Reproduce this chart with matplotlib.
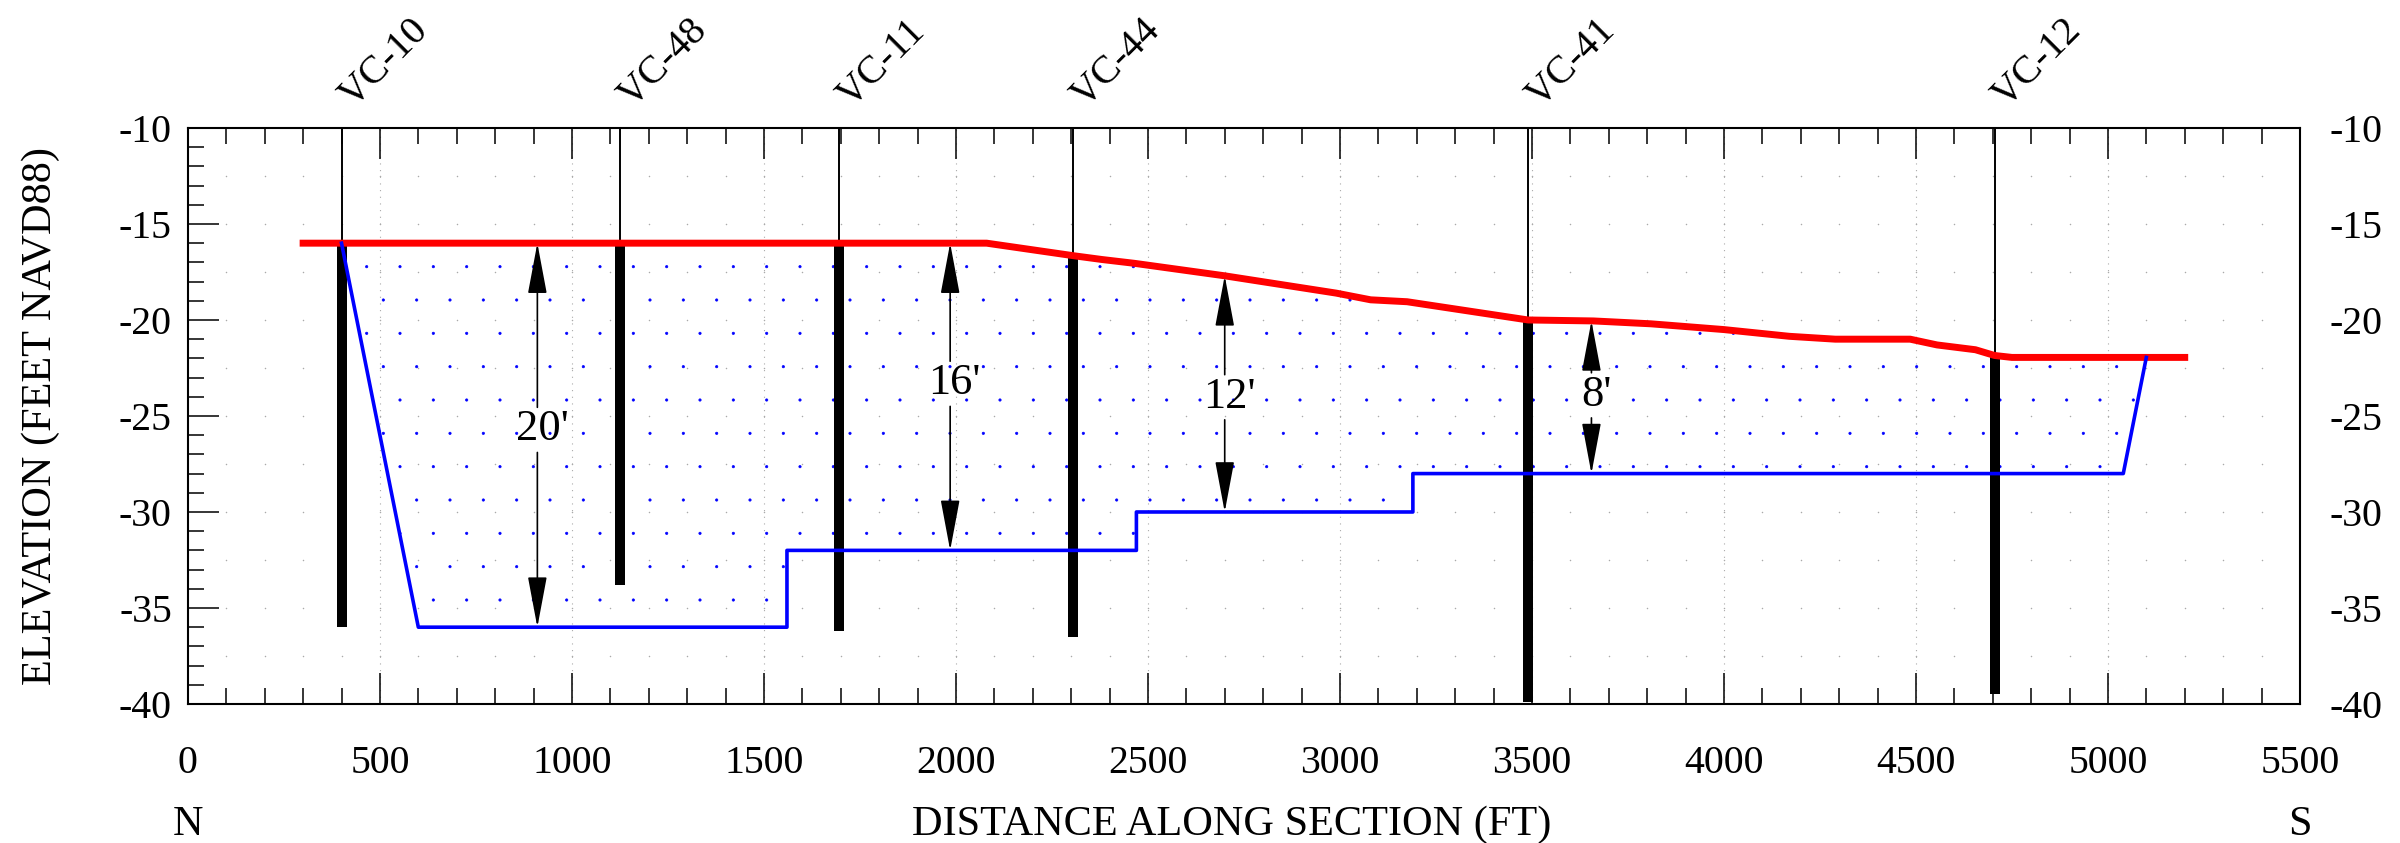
import matplotlib
matplotlib.use('Agg')
import matplotlib.pyplot as plt
import matplotlib.hatch as mhatch
import matplotlib.transforms as mtransforms
from matplotlib.ticker import MultipleLocator
import numpy as np

# Existing grade along the section (red line)
red_x = [300, 2080, 2305, 2380, 2465, 2700, 2990, 3080, 3175, 3490, 3660,
         3810, 4000, 4170, 4290, 4485, 4555, 4655, 4705, 4750, 5200]
red_y = [-16.0, -16.0, -16.65, -16.85, -17.05, -17.7, -18.6, -18.95, -19.05, -20.0, -20.05,
         -20.2, -20.5, -20.85, -21.0, -21.0, -21.3, -21.55, -21.85, -21.95, -21.95]

# Dredge template bottom (blue line)
blue_x = [400, 600, 1560, 1560, 2470, 2470, 3190, 3190, 5040, 5100]
blue_y = [-16.0, -36.0, -36.0, -32.0, -32.0, -30.0, -30.0, -28.0, -28.0, -21.95]

# Vibracores
bh_names = ['VC-10', 'VC-48', 'VC-11', 'VC-44', 'VC-41', 'VC-12']
bh_x = [400, 1125, 1695, 2305, 3490, 4705]
bh_top = [-16.0, -16.0, -16.0, -16.6, -20.0, -21.9]
bh_bottom = [-36.0, -33.8, -36.2, -36.5, -39.9, -39.5]

# Cut thickness callouts
dim_x = [910, 1985, 2700, 3655]
dim_labels = ["20'", "16'", "12'", "8'"]
dim_text_y = [-25.7, -23.3, -24.0, -23.9]

plt.rcParams['font.family'] = ['Liberation Serif', 'DejaVu Serif']
plt.rcParams['axes.unicode_minus'] = False
plt.rcParams['hatch.linewidth'] = 0.25
# smaller dots for the '.' hatch (sand fill)
mhatch.SmallFilledCircles.size = 0.035

fig = plt.figure(figsize=(12, 4.215), dpi=200)
ax = fig.add_axes([0.0783, 0.1649, 0.88, 0.6833])
ax.set_xlim(0, 5500)
ax.set_ylim(-40, -10)

# sand fill between grade and template
inside = [(x, y) for x, y in zip(red_x, red_y) if blue_x[0] < x < blue_x[-1]]
poly_x = list(blue_x) + [p[0] for p in inside[::-1]]
poly_y = list(blue_y) + [p[1] for p in inside[::-1]]
ax.fill(poly_x, poly_y, facecolor='none', edgecolor='blue', linewidth=0, hatch='.', zorder=1)

# dotted grid
for xv in np.arange(500, 5500, 500):
    ax.axvline(xv, color='#aaaaaa', lw=0.4, linestyle=(0, (1, 5)), zorder=0)
gx, gy = np.meshgrid(np.arange(100, 5500, 100), np.arange(-37.5, -10, 2.5))
ax.scatter(gx.ravel(), gy.ravel(), s=0.3, color='#aaaaaa', linewidths=0, zorder=0)

# vibracores
ytop = ax.get_ylim()[1]
ax.vlines(bh_x, bh_top, ytop, color='black', lw=0.7, zorder=3)
ax.vlines(bh_x, bh_bottom, bh_top, color='black', lw=3.6, capstyle='butt', zorder=3)
for name, x in zip(bh_names, bh_x):
    ax.text(x + 30, -9.0, name, rotation=45, rotation_mode='anchor',
            ha='left', va='baseline', fontsize=14.3, clip_on=False)

ax.plot(red_x, red_y, color='red', lw=2.5, zorder=4)
ax.plot(blue_x, blue_y, color='blue', lw=1.3, zorder=5)

# thickness arrows
dim_top = np.interp(dim_x, red_x, red_y)
dim_bot = np.interp(dim_x, blue_x, blue_y)
arrow = dict(arrowstyle='-|>,head_length=1.6,head_width=0.3', color='black', lw=0.6,
             shrinkA=0, shrinkB=0, mutation_scale=10)
for x, t, b, lab, ty in zip(dim_x, dim_top, dim_bot, dim_labels, dim_text_y):
    ax.annotate('', xy=(x, t), xytext=(x, ty + 1.15), arrowprops=arrow, zorder=6)
    ax.annotate('', xy=(x, b), xytext=(x, ty - 1.2), arrowprops=arrow, zorder=6)
    ax.text(x + 12, ty, lab, ha='center', va='center', fontsize=16, zorder=6)

# ticks
ax.xaxis.set_major_locator(MultipleLocator(500))
ax.xaxis.set_minor_locator(MultipleLocator(100))
ax.yaxis.set_major_locator(MultipleLocator(5))
ax.yaxis.set_minor_locator(MultipleLocator(1))
ax.tick_params(which='both', direction='in', top=True, right=True, width=0.55, labelsize=14.3)
ax.tick_params(which='major', length=11.2)
ax.tick_params(which='minor', length=5.8)
ax.tick_params(axis='x', pad=14.8)
ax.tick_params(axis='y', pad=5.8)
for s in ax.spines.values():
    s.set_linewidth(0.75)

ax2 = ax.twinx()
ax2.set_ylim(ax.get_ylim())
ax2.yaxis.set_major_locator(MultipleLocator(5))
ax2.tick_params(axis='y', length=0, pad=10.5, labelsize=14.3)
for s in ax2.spines.values():
    s.set_visible(False)

ax.set_ylabel('ELEVATION (FEET NAVD88)', fontsize=15.2)
ax.yaxis.set_label_coords(-0.0606, 0.5)
ax.set_xlabel('DISTANCE ALONG SECTION (FT)', fontsize=15.2)
ax.xaxis.set_label_coords(0.494, -0.177)

trans = mtransforms.blended_transform_factory(ax.transData, ax.transAxes)
ax.text(0, -0.177, 'N', transform=trans, ha='center', va='top', fontsize=15.2)
ax.text(5500, -0.177, 'S', transform=trans, ha='center', va='top', fontsize=15.2)

fig.savefig('out.png', dpi=200)
